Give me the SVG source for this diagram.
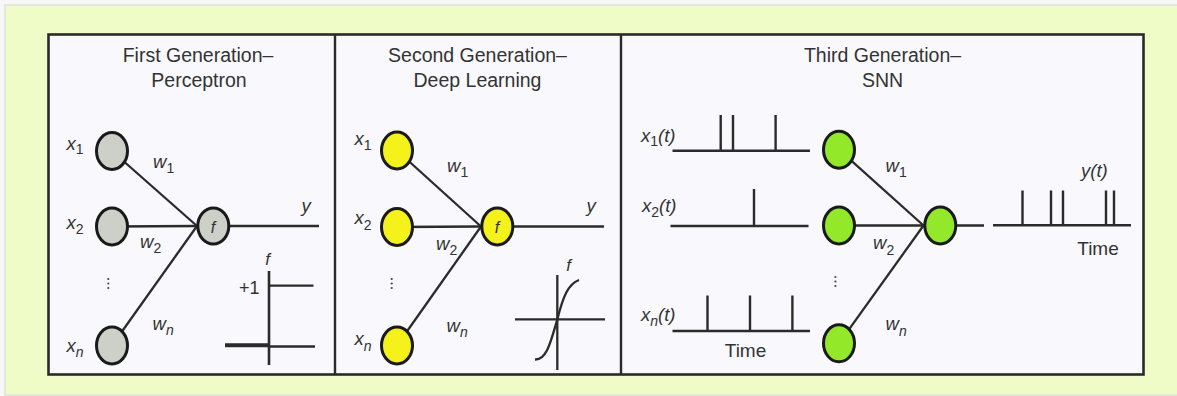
<svg xmlns="http://www.w3.org/2000/svg" width="1177" height="396" viewBox="0 0 1177 396">
<style>
.t{font-family:"Liberation Sans",Arial,sans-serif;fill:#333;}
.title{font-size:19.5px;text-anchor:middle;}
.v{font-size:18.5px;font-style:italic;}
.s{font-size:14px;font-style:normal;}
.si{font-size:14px;font-style:italic;}
.ln{stroke:#2b2b2b;stroke-width:2.3;fill:none;}
.sp{stroke:#2b2b2b;stroke-width:2.4;fill:none;}
.n{stroke:#1a1a1a;stroke-width:3;}
.gray{fill:#cdd0c8;}
.yel{fill:#f5f11a;}
.grn{fill:#93e82a;}
.dot{fill:#444;}
</style>
<rect x="0" y="0" width="1177" height="396" fill="#f6f7f6"/>
<rect x="5" y="5" width="1180" height="390" fill="#effcc8" stroke="#dde2dd" stroke-width="1.5"/>
<rect x="48.5" y="34.5" width="1095" height="340" fill="#f8f8fd" stroke="#2a2a2a" stroke-width="2.6"/>
<line x1="335" y1="34.5" x2="335" y2="374.5" stroke="#2a2a2a" stroke-width="2.4"/>
<line x1="621" y1="34.5" x2="621" y2="374.5" stroke="#2a2a2a" stroke-width="2.4"/>

<g id="titles">
<text class="t title" x="198" y="61.5">First Generation–</text>
<text class="t title" x="199" y="86.5">Perceptron</text>
<text class="t title" x="477.5" y="61.5">Second Generation–</text>
<text class="t title" x="477.5" y="86.5">Deep Learning</text>
<text class="t title" x="882.5" y="61.5">Third Generation–</text>
<text class="t title" x="882.5" y="86.5">SNN</text>
</g>

<g id="connectors">
<line class="ln" x1="112" y1="151" x2="197" y2="226"/>
<line class="ln" x1="112" y1="226.5" x2="197" y2="226"/>
<line class="ln" x1="112" y1="345.5" x2="197" y2="226"/>
<line class="ln" x1="213" y1="226" x2="319" y2="226"/>
<line class="ln" x1="397" y1="150.5" x2="481" y2="226.5"/>
<line class="ln" x1="397" y1="227" x2="481" y2="226.5"/>
<line class="ln" x1="397" y1="345.5" x2="481" y2="226.5"/>
<line class="ln" x1="497" y1="226.5" x2="604" y2="226.5"/>
<line class="ln" x1="839" y1="149.7" x2="923.5" y2="225.5"/>
<line class="ln" x1="839" y1="225.5" x2="923.5" y2="225.5"/>
<line class="ln" x1="839" y1="343.3" x2="923.5" y2="225.5"/>
<line class="ln" x1="940" y1="225.5" x2="984" y2="225.5"/>
</g>

<g id="p1-in1"><ellipse class="n gray" cx="112" cy="151" rx="15.5" ry="18.5"/><text class="t v" x="66.5" y="150">x<tspan class="s" dy="4">1</tspan></text></g>
<g id="p1-in2"><ellipse class="n gray" cx="112" cy="226.5" rx="15.5" ry="18.5"/><text class="t v" x="66.5" y="229">x<tspan class="s" dy="5">2</tspan></text></g>
<g id="p1-inn"><ellipse class="n gray" cx="112" cy="345.5" rx="15.5" ry="18.5"/><text class="t v" x="66.5" y="351.5">x<tspan class="si" dy="5">n</tspan></text></g>
<g id="p1-dots"><circle class="dot" cx="108.3" cy="279" r="1.1"/><circle class="dot" cx="108.3" cy="283.5" r="1.1"/><circle class="dot" cx="108.3" cy="288" r="1.1"/></g>
<g id="p1-out"><ellipse class="n gray" cx="213.3" cy="226" rx="15.5" ry="18"/><text class="t v" x="213" y="232.5" text-anchor="middle" style="font-size:16px">f</text></g>
<g id="p1-labels">
<text class="t v" x="153" y="168">w<tspan class="s" dy="5">1</tspan></text>
<text class="t v" x="140" y="248">w<tspan class="s" dy="5">2</tspan></text>
<text class="t v" x="152.5" y="330">w<tspan class="si" dy="5">n</tspan></text>
<text class="t v" x="301.5" y="212">y</text>
</g>
<g id="p1-step">
<line class="ln" x1="269" y1="271" x2="269" y2="365" style="stroke-width:2.6"/>
<line class="ln" x1="269" y1="285.7" x2="313.5" y2="285.7"/>
<line class="ln" x1="269" y1="346.5" x2="315" y2="346.5"/>
<line class="ln" x1="225" y1="345.2" x2="269" y2="345.2" style="stroke-width:4"/>
<text class="t v" x="267.5" y="265" text-anchor="middle" style="font-size:17px">f</text>
<text class="t" x="239" y="294" style="font-size:18px">+1</text>
</g>

<g id="p2-in1"><ellipse class="n yel" cx="397" cy="150.5" rx="15.5" ry="18.5"/><text class="t v" x="354.5" y="144.5">x<tspan class="s" dy="5">1</tspan></text></g>
<g id="p2-in2"><ellipse class="n yel" cx="397" cy="227" rx="15.5" ry="18.5"/><text class="t v" x="354.5" y="224">x<tspan class="s" dy="6">2</tspan></text></g>
<g id="p2-inn"><ellipse class="n yel" cx="397" cy="345.5" rx="15.5" ry="18.5"/><text class="t v" x="354.5" y="345">x<tspan class="si" dy="6">n</tspan></text></g>
<g id="p2-dots"><circle class="dot" cx="391.7" cy="279" r="1.1"/><circle class="dot" cx="391.7" cy="283.5" r="1.1"/><circle class="dot" cx="391.7" cy="288" r="1.1"/></g>
<g id="p2-out"><ellipse class="n yel" cx="497.3" cy="226.5" rx="15.5" ry="18.5"/><text class="t v" x="497" y="232.5" text-anchor="middle" style="font-size:16px">f</text></g>
<g id="p2-labels">
<text class="t v" x="447" y="172">w<tspan class="s" dy="5">1</tspan></text>
<text class="t v" x="436" y="250">w<tspan class="s" dy="5">2</tspan></text>
<text class="t v" x="446.5" y="331.5">w<tspan class="si" dy="5">n</tspan></text>
<text class="t v" x="586.5" y="212">y</text>
</g>
<g id="p2-sigmoid">
<line class="ln" x1="557.3" y1="275" x2="557.3" y2="370"/>
<line class="ln" x1="515" y1="319.3" x2="605" y2="319.3"/>
<path class="ln" d="M535,359.5 C546,360 550,345 557.3,319.5 C563,297 568,284 579,280"/>
<text class="t v" x="568.5" y="271" text-anchor="middle" style="font-size:17px">f</text>
</g>

<g id="p3-in1"><ellipse class="n grn" cx="839" cy="149.7" rx="15.5" ry="18.5"/></g>
<g id="p3-in2"><ellipse class="n grn" cx="839" cy="225.5" rx="15.5" ry="18.5"/></g>
<g id="p3-inn"><ellipse class="n grn" cx="839" cy="343.3" rx="15.5" ry="18.5"/></g>
<g id="p3-dots"><circle class="dot" cx="835.4" cy="277" r="1.1"/><circle class="dot" cx="835.4" cy="281.5" r="1.1"/><circle class="dot" cx="835.4" cy="286" r="1.1"/></g>
<g id="p3-out"><ellipse class="n grn" cx="940.3" cy="225.5" rx="15.5" ry="18.5"/></g>
<g id="p3-labels">
<text class="t v" x="885.5" y="172">w<tspan class="s" dy="5">1</tspan></text>
<text class="t v" x="873" y="249">w<tspan class="s" dy="6">2</tspan></text>
<text class="t v" x="885.5" y="330">w<tspan class="si" dy="6">n</tspan></text>
</g>
<g id="x1-train">
<path class="sp" d="M672.5,150.7 H810 M720.7,150.7 V115 M733,150.7 V115 M775.6,150.7 V115"/>
<text class="t v" x="641" y="141.7">x<tspan class="s" dy="4.5">1</tspan><tspan dy="-4.5">(</tspan>t)</text>
</g>
<g id="x2-train">
<path class="sp" d="M670.5,226 H808.5 M754,226 V189"/>
<text class="t v" x="642" y="212">x<tspan class="s" dy="5">2</tspan><tspan dy="-5">(</tspan>t)</text>
</g>
<g id="xn-train">
<path class="sp" d="M672.5,331 H810 M707.5,331 V295.5 M750,331 V295.5 M792.4,331 V295.5"/>
<text class="t v" x="641" y="321">x<tspan class="si" dy="5">n</tspan><tspan dy="-5">(</tspan>t)</text>
<text class="t" x="745.5" y="357" text-anchor="middle" style="font-size:19px">Time</text>
</g>
<g id="y-train">
<path class="sp" d="M993,225.3 H1131 M1022.5,225.3 V190.5 M1051,225.3 V190.5 M1063,225.3 V190.5 M1106,225.3 V190.5 M1114,225.3 V190.5"/>
<text class="t v" x="1081" y="177">y(t)</text>
<text class="t" x="1098" y="255" text-anchor="middle" style="font-size:19px">Time</text>
</g>
</svg>
